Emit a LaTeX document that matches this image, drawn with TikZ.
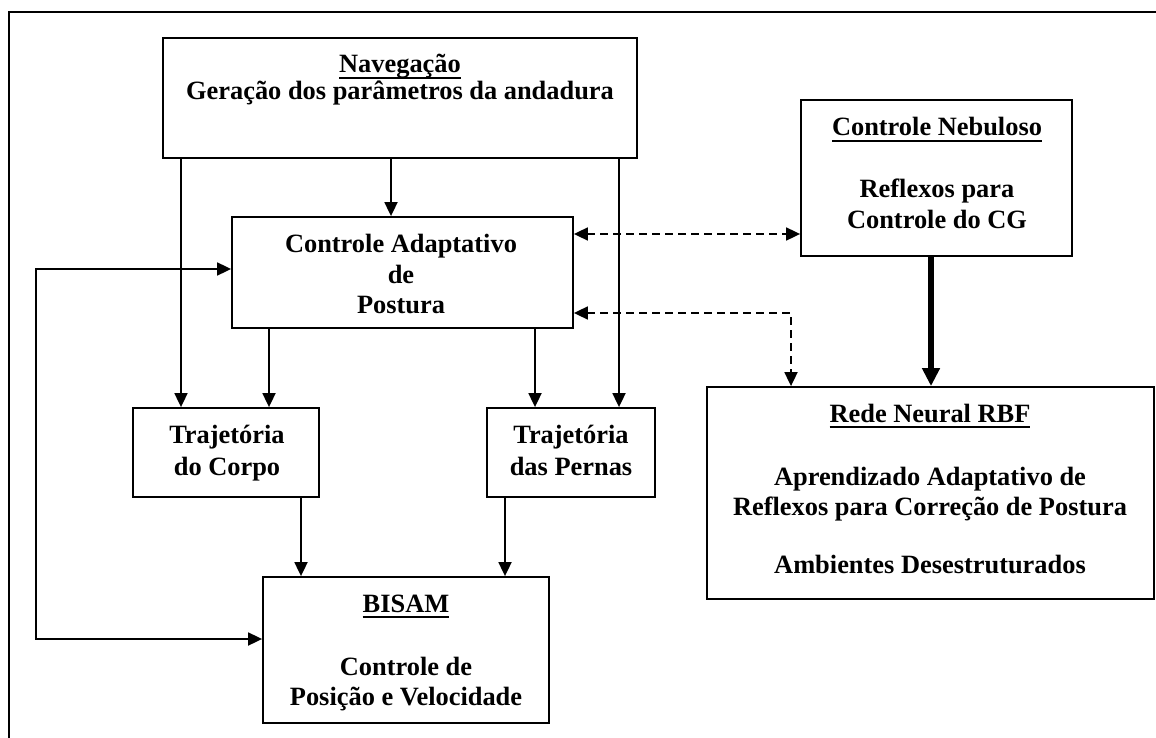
\documentclass[tikz,border=0pt]{standalone}
\usepackage{fontspec}
\setmainfont{Liberation Serif}
\usetikzlibrary{arrows.meta}
\newcommand\hdul[1]{{\setbox0\hbox{#1}\rlap{\rule[-6.2pt]{\wd0}{2.4pt}}\box0}}
\begin{document}
\begin{tikzpicture}[x=1pt,y=-1pt,
  box/.style={draw, line width=1.8pt, inner sep=0pt},
  txt/.style={anchor=base, inner sep=0pt, font=\fontsize{26.4}{30}\selectfont\bfseries},
  tip/.style={Triangle[length=14pt,width=13pt]},
  con/.style={line width=1.8pt, -{Triangle[length=14pt,width=13pt]}},
  dcon/.style={line width=1.8pt, dash pattern=on 8pt off 5pt, {Triangle[length=14pt,width=13pt]}-{Triangle[length=14pt,width=13pt]}},
  bcon/.style={line width=1.8pt, {Triangle[length=14pt,width=13pt]}-{Triangle[length=14pt,width=13pt]}}]
\useasboundingbox (0,0) rectangle (1156,738);
\fill[white] (0,0) rectangle (1156,738);
% outer frame
\draw[line width=1.8pt] (9,738) -- (9,12) -- (1156,12);

% boxes
\node[box, minimum width=474pt, minimum height=120pt] (nav) at (400,98) {};
\node[box, minimum width=341pt, minimum height=111pt] (ca) at (402.5,272.5) {};
\node[box, minimum width=271pt, minimum height=156pt] (neb) at (936.5,178) {};
\node[box, minimum width=447pt, minimum height=212pt] (rbf) at (930.5,493) {};
\node[box, minimum width=186pt, minimum height=89pt] (tc) at (226,452.5) {};
\node[box, minimum width=168pt, minimum height=89pt] (tp) at (571,452.5) {};
\node[box, minimum width=286pt, minimum height=146pt] (bisam) at (406,650) {};

% texts
\node[txt] (nav1) at (400,73) {\hdul{Navegação}};
\node[txt] (nav2) at (400,100) {Geração dos parâmetros da andadura};
\node[txt] (ca1) at (401,252) {Controle Adaptativo};
\node[txt] (ca2) at (401,283) {de};
\node[txt] (ca3) at (401,313) {Postura};
\node[txt] (neb1) at (937,136) {\hdul{Controle Nebuloso}};
\node[txt] (neb2) at (937,197) {Reflexos para};
\node[txt] (neb3) at (937,228) {Controle do CG};
\node[txt] (rbf1) at (930,422) {\hdul{Rede Neural RBF}};
\node[txt] (rbf2) at (930,485) {Aprendizado Adaptativo de};
\node[txt] (rbf3) at (930,515) {Reflexos para Correção de Postura};
\node[txt] (rbf4) at (930,573) {Ambientes Desestruturados};
\node[txt] (tc1) at (227,443) {Trajetória};
\node[txt] (tc2) at (227,475) {do Corpo};
\node[txt] (tp1) at (571,443) {Trajetória};
\node[txt] (tp2) at (571,475) {das Pernas};
\node[txt] (bi1) at (406,612) {\hdul{BISAM}};
\node[txt] (bi2) at (406,675) {Controle de};
\node[txt] (bi3) at (406,705) {Posição e Velocidade};

% helper coordinates
\coordinate (xa) at (181,0);
\coordinate (xb) at (391,0);
\coordinate (xc) at (619,0);
\coordinate (xd) at (269,0);
\coordinate (xe) at (535,0);
\coordinate (xf) at (301,0);
\coordinate (xg) at (505,0);
\coordinate (xh) at (931,0);
\coordinate (xi) at (791,0);
\coordinate (ya) at (0,234);
\coordinate (yb) at (0,313);
\coordinate (fb1) at (36,269);
\coordinate (fb2) at (36,639);

% connectors
\draw[con] (nav.south -| xa) -- (tc.north -| xa);
\draw[con] (nav.south -| xb) -- (ca.north -| xb);
\draw[con] (nav.south -| xc) -- (tp.north -| xc);
\draw[con] (ca.south -| xd) -- (tc.north -| xd);
\draw[con] (ca.south -| xe) -- (tp.north -| xe);
\draw[con] (tc.south -| xf) -- (bisam.north -| xf);
\draw[con] (tp.south -| xg) -- (bisam.north -| xg);
\draw[dcon] (ca.east |- ya) -- (neb.west |- ya);
\draw[dcon] (ca.east |- yb) -| (rbf.north -| xi);
\draw[line width=5.5pt, -{Triangle[length=18pt,width=17pt]}] (neb.south -| xh) -- (rbf.north -| xh);
\draw[bcon] (ca.west |- fb1) -- (fb1) -- (fb2) -- (bisam.west |- fb2);
\end{tikzpicture}
\end{document}
